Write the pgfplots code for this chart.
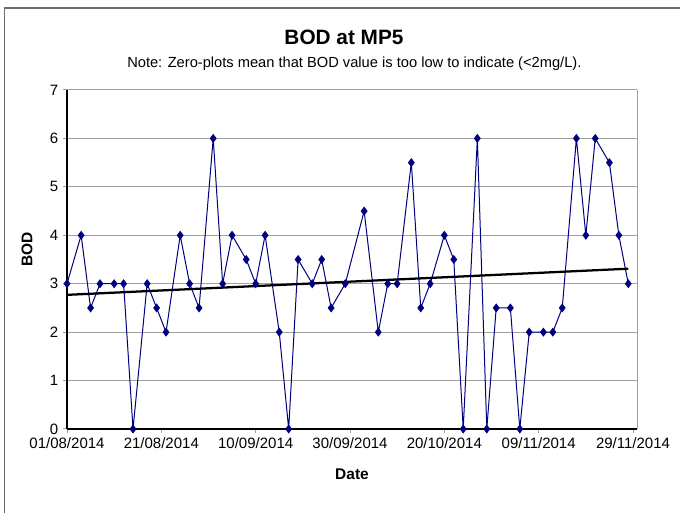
\documentclass[border=0pt]{standalone}
\usepackage{fontspec}
\setmainfont{Liberation Sans}
\usepackage{pgfplots}
\pgfplotsset{compat=1.18}
\definecolor{bodnavy}{RGB}{0,0,128}
\definecolor{gridgray}{RGB}{160,160,160}
\definecolor{framegray}{RGB}{110,110,110}

\begin{document}
\begin{tikzpicture}[x=0.75pt,y=0.75pt]
\useasboundingbox (0,0) rectangle (680,513);
% chart area frame (only left and top edges fall inside the picture)
\draw[framegray, line width=0.9pt] (4.5,0) -- (4.5,505) -- (680,505);
\node[anchor=base, font=\bfseries\fontsize{15.6}{18}\selectfont] at (344,468.5) {BOD at MP5};
\node[anchor=base west, inner sep=0pt, font=\fontsize{11}{13}\selectfont] at (127,445)
  {Note: Zero-plots mean that BOD value is too low to indicate (<2mg/L).};

\begin{axis}[
    at={(50.25pt,63pt)}, anchor=south west,
    scale only axis,
    width=427.5pt, height=254.25pt,
    xmin=0, xmax=120.85, ymin=0, ymax=7,
    axis lines=left,
    axis line style={-, black, line width=0.8pt},
    xtick={0,20,...,120},
    xticklabels={01/08/2014,21/08/2014,10/09/2014,30/09/2014,20/10/2014,09/11/2014,29/11/2014},
    ytick={0,1,...,7},
    ymajorgrids,
    grid style={gridgray, line width=0.75pt},
    tick align=outside,
    major tick length=3pt,
    tick style={gridgray, line width=0.75pt},
    ticklabel style={font=\fontsize{11.25}{13}\selectfont},
    /pgf/number format/assume math mode=true,
    xlabel={Date}, ylabel={BOD},
    every axis x label/.style={at={(axis description cs:0.5,-0.133)}, anchor=center,
        font=\bfseries\fontsize{11.6}{13}\selectfont},
    every axis y label/.style={at={(axis description cs:-0.0702,0.53)}, rotate=90, anchor=center,
        font=\bfseries\fontsize{11.6}{13}\selectfont},
    clip=false,
]
\draw[gridgray, line width=0.75pt] (rel axis cs:1,0) -- (rel axis cs:1,1);
\addplot[bodnavy, line width=0.75pt, mark=diamond*, mark size=2.8pt,
         mark options={fill=bodnavy, draw=bodnavy}] coordinates {
(0,3) (3,4) (5,2.5) (7,3) (10,3) (12,3) (14,0) (17,3) (19,2.5) (21,2)
(24,4) (26,3) (28,2.5) (31,6) (33,3) (35,4) (38,3.5) (40,3) (42,4) (45,2)
(47,0) (49,3.5) (52,3) (54,3.5) (56,2.5) (59,3) (63,4.5) (66,2) (68,3) (70,3)
(73,5.5) (75,2.5) (77,3) (80,4) (82,3.5) (84,0) (87,6) (89,0) (91,2.5) (94,2.5)
(96,0) (98,2) (101,2) (103,2) (105,2.5) (108,6) (110,4) (112,6) (115,5.5) (117,4)
(119,3)
};
% linear trend line
\addplot[black, line width=1.7pt] coordinates {(0,2.77) (119,3.31)};
\end{axis}
\end{tikzpicture}
\end{document}
